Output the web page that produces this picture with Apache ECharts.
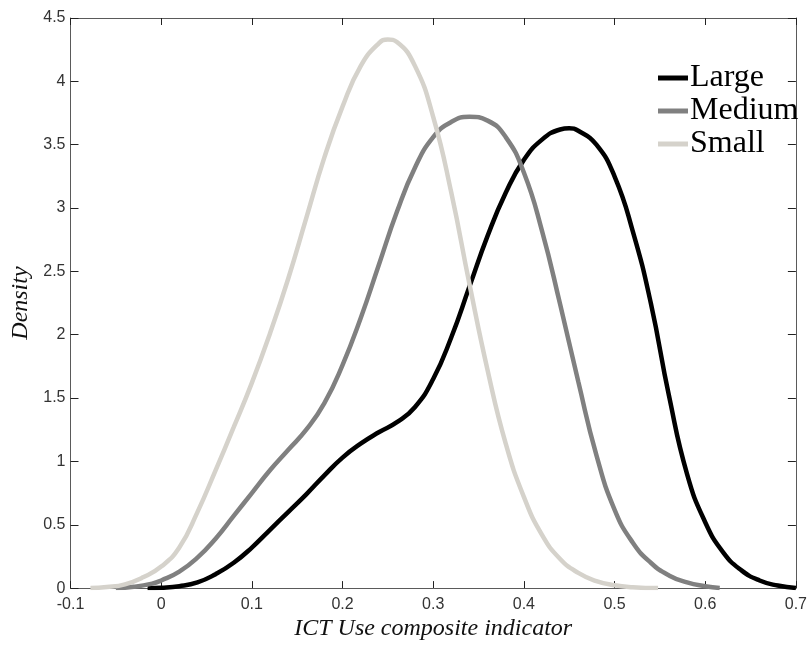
<!DOCTYPE html>
<html>
<head>
<meta charset="utf-8">
<script src="https://cdn.jsdelivr.net/npm/echarts@6/dist/echarts.min.js"></script>
<style>
html,body{margin:0;padding:0;background:#fff;}
#chart{width:810px;height:646px;}
</style>
</head>
<body>
<div id="chart"></div>
<script>
var seriesNames = ['Large', 'Medium', 'Small'];

var largeX = [-0.015, 0, 0.02, 0.04, 0.06, 0.08, 0.10, 0.12, 0.14, 0.16, 0.18, 0.20, 0.22, 0.24, 0.26, 0.28, 0.30, 0.32, 0.34, 0.36, 0.38, 0.40, 0.42, 0.44, 0.45, 0.46, 0.48, 0.50, 0.52, 0.54, 0.56, 0.58, 0.60, 0.62, 0.64, 0.66, 0.68, 0.70];
var largeY = [0, 0.003, 0.015, 0.045, 0.11, 0.20, 0.32, 0.46, 0.60, 0.74, 0.89, 1.03, 1.14, 1.23, 1.31, 1.43, 1.65, 1.98, 2.38, 2.78, 3.12, 3.38, 3.54, 3.62, 3.63, 3.61, 3.50, 3.25, 2.82, 2.25, 1.52, 0.90, 0.52, 0.28, 0.14, 0.06, 0.02, 0];

var mediumX = [-0.05, -0.03, -0.01, 0, 0.02, 0.04, 0.06, 0.08, 0.10, 0.12, 0.14, 0.16, 0.18, 0.20, 0.22, 0.24, 0.26, 0.28, 0.30, 0.32, 0.34, 0.36, 0.38, 0.40, 0.42, 0.44, 0.46, 0.48, 0.50, 0.52, 0.54, 0.56, 0.58, 0.60, 0.616];
var mediumY = [0, 0.01, 0.035, 0.06, 0.13, 0.24, 0.39, 0.57, 0.75, 0.93, 1.09, 1.25, 1.46, 1.76, 2.13, 2.55, 2.97, 3.32, 3.56, 3.68, 3.72, 3.69, 3.56, 3.28, 2.82, 2.24, 1.63, 1.05, 0.62, 0.36, 0.20, 0.10, 0.045, 0.015, 0];

var smallX = [-0.078, -0.06, -0.04, -0.02, 0, 0.02, 0.04, 0.06, 0.08, 0.10, 0.12, 0.14, 0.16, 0.18, 0.20, 0.22, 0.24, 0.25, 0.26, 0.28, 0.30, 0.32, 0.34, 0.36, 0.38, 0.40, 0.42, 0.44, 0.46, 0.48, 0.50, 0.52, 0.548];
var smallY = [0, 0.008, 0.03, 0.085, 0.17, 0.32, 0.60, 0.93, 1.27, 1.62, 2.01, 2.44, 2.92, 3.40, 3.80, 4.12, 4.30, 4.33, 4.31, 4.12, 3.72, 3.12, 2.40, 1.72, 1.14, 0.72, 0.42, 0.23, 0.12, 0.055, 0.022, 0.007, 0];

var xTicks = {min: -0.1, max: 0.7, interval: 0.1};
var yTicks = {min: 0, max: 4.5, interval: 0.5};

function zip(xs, ys) { return xs.map(function (x, i) { return [x, ys[i]]; }); }

var colors = ['#000000', '#808080', '#d5d2cb'];
var dataSets = [zip(largeX, largeY), zip(mediumX, mediumY), zip(smallX, smallY)];

var axisLineStyle = {color: '#5a5a5a', width: 1};
var tickStyle = {color: '#222', width: 1};
var labelFont = {fontFamily: 'Liberation Sans, Arial, sans-serif', fontSize: 16, color: '#333'};

var chart = echarts.init(document.getElementById('chart'), null, {renderer: 'canvas'});
chart.setOption({
  animation: false,
  backgroundColor: '#fff',
  grid: {left: 70.5, right: 12.5, top: 18, bottom: 53.3, containLabel: false},
  legend: {
    orient: 'vertical',
    left: 653,
    top: 57,
    icon: 'rect',
    itemWidth: 30,
    itemHeight: 5,
    itemGap: 1,
    data: seriesNames,
    textStyle: {fontFamily: 'Liberation Serif, Times New Roman, serif', fontSize: 32, color: '#000', padding: [0, 0, 0, -3]}
  },
  xAxis: [{
    type: 'value', position: 'bottom',
    min: xTicks.min, max: xTicks.max, interval: xTicks.interval,
    name: 'ICT Use composite indicator', nameLocation: 'middle', nameGap: 24,
    nameTextStyle: {fontFamily: 'Liberation Serif, Times New Roman, serif', fontStyle: 'italic', fontSize: 24, color: '#111'},
    axisLine: {show: true, onZero: false, lineStyle: axisLineStyle},
    axisTick: {show: true, inside: true, length: 7, lineStyle: tickStyle},
    axisLabel: Object.assign({margin: 8}, labelFont),
    splitLine: {show: false}
  }, {
    type: 'value', position: 'top',
    min: xTicks.min, max: xTicks.max, interval: xTicks.interval,
    axisLine: {show: true, onZero: false, lineStyle: axisLineStyle},
    axisTick: {show: true, inside: true, length: 7, lineStyle: tickStyle},
    axisLabel: {show: false},
    splitLine: {show: false}
  }],
  yAxis: [{
    type: 'value', position: 'left',
    min: yTicks.min, max: yTicks.max, interval: yTicks.interval,
    name: 'Density', nameLocation: 'middle', nameGap: 34, nameRotate: 90,
    nameTextStyle: {fontFamily: 'Liberation Serif, Times New Roman, serif', fontStyle: 'italic', fontSize: 24, color: '#111'},
    axisLine: {show: true, onZero: false, lineStyle: axisLineStyle},
    axisTick: {show: true, inside: true, length: 8, lineStyle: tickStyle},
    axisLabel: Object.assign({margin: 5}, labelFont),
    splitLine: {show: false}
  }, {
    type: 'value', position: 'right',
    min: yTicks.min, max: yTicks.max, interval: yTicks.interval,
    axisLine: {show: true, onZero: false, lineStyle: axisLineStyle},
    axisTick: {show: true, inside: true, length: 8, lineStyle: tickStyle},
    axisLabel: {show: false},
    splitLine: {show: false}
  }],
  series: seriesNames.map(function (name, i) {
    return {
      name: name, type: 'line', xAxisIndex: 0, yAxisIndex: 0,
      data: dataSets[i], smooth: 0.5, showSymbol: false, symbol: 'none',
      color: colors[i],
      itemStyle: {color: colors[i]},
      lineStyle: {color: colors[i], width: 4.5},
      z: 2 + i
    };
  })
});
</script>
</body>
</html>
